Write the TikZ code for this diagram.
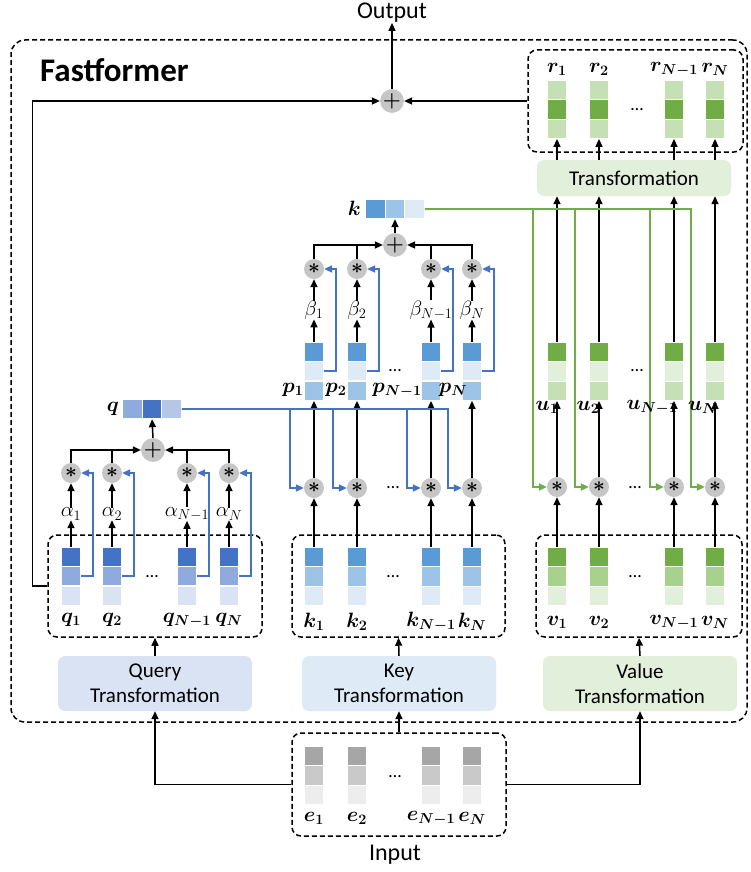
\documentclass[tikz,border=0pt]{standalone}
\usepackage{fontspec}
\setmainfont{Carlito}
\usepackage{amsmath}
\usetikzlibrary{arrows.meta,calc}
\definecolor{qdark}{HTML}{4472C4}
\definecolor{qmid}{HTML}{8FAADC}
\definecolor{qlight}{HTML}{DAE3F3}
\definecolor{qlighttwo}{HTML}{B4C7E7}
\definecolor{kdark}{HTML}{5B9BD5}
\definecolor{kmid}{HTML}{9DC3E6}
\definecolor{klight}{HTML}{DEEBF7}
\definecolor{vdark}{HTML}{70AD47}
\definecolor{vmid}{HTML}{A9D18E}
\definecolor{vlight}{HTML}{E2EFDA}
\definecolor{vmidtwo}{HTML}{C5E0B4}
\definecolor{edark}{HTML}{A6A6A6}
\definecolor{emid}{HTML}{C9C9C9}
\definecolor{elight}{HTML}{EDEDED}
\definecolor{opgray}{HTML}{C6C6C6}
\definecolor{bline}{HTML}{4472C4}
\definecolor{gline}{HTML}{70AD47}
\begin{document}
\begin{tikzpicture}[x=1pt,y=-1pt,
  cell/.style={rectangle,draw=white,line width=0.8pt,minimum width=19.5pt,minimum height=19.5pt,inner sep=0pt},
  op/.style={circle,fill=opgray,minimum size=20pt,inner sep=0pt,font=\boldmath\fontsize{21}{21}\selectfont},
  lab/.style={inner sep=0pt,font=\fontsize{21}{23}\selectfont},
  txt/.style={inner sep=0pt,font=\fontsize{24}{26}\selectfont},
  dots/.style={inner sep=0pt,font=\fontsize{18}{20}\selectfont},
  arr/.style={-{Triangle[length=8pt,width=7pt]},line width=1.5pt},
  ln/.style={line width=1.5pt},
  barr/.style={-{Triangle[length=8pt,width=7pt]},line width=2pt,bline},
  garr/.style={-{Triangle[length=8pt,width=7pt]},line width=2pt,gline},
  dbox/.style={draw,dash pattern=on 5pt off 3pt,line width=1.5pt,rounded corners=9pt,inner sep=0pt},
  tbox/.style={rounded corners=7pt,align=center,inner sep=0pt,font=\fontsize{21}{25}\selectfont},
  ttl/.style={inner sep=0pt,anchor=west,font=\bfseries\fontsize{33}{35}\selectfont}
]
\useasboundingbox (0,0) rectangle (750,872);

% ---------- dashed boxes ----------
\node[dbox,rounded corners=14pt,minimum width=736pt,minimum height=682pt] (outer) at (379,381) {};
\node[ttl] (title) at (40,70) {Fastformer};
\node[dbox,minimum width=214pt,minimum height=102pt] (qbox) at (155,586) {};
\node[dbox,minimum width=213pt,minimum height=102pt] (kbox) at (398.5,586) {};
\node[dbox,minimum width=206pt,minimum height=102pt] (vbox) at (639,586) {};
\node[dbox,minimum width=214pt,minimum height=103pt] (ebox) at (399,784.5) {};
\node[dbox,minimum width=215pt,minimum height=102pt] (rbox) at (635.5,101) {};

% ---------- transformation boxes ----------
\node[tbox,fill=qlight,minimum width=194pt,minimum height=55pt] (qt) at (155,683.5) {Query\\Transformation};
\node[tbox,fill=klight,minimum width=194pt,minimum height=55pt] (kt) at (399,683.5) {Key\\Transformation};
\node[tbox,fill=vlight,minimum width=194pt,minimum height=55pt] (vt) at (640,683.5) {Value\\Transformation};
\node[tbox,fill=vlight,minimum width=194pt,minimum height=36pt] (rt) at (634,178) {Transformation};

% ---------- texts ----------
\node[txt] (out) at (392,13) {Output};
\node[txt] (inp) at (395,855) {Input};

% ---------- input e ----------
\foreach \i/\x/\s in {1/314/1,2/357/2,3/431/N-1,4/472/N}{
  \node[cell,fill=edark] (ea\i) at (\x,755.75) {};
  \node[cell,fill=emid] (eb\i) at (\x,775.25) {};
  \node[cell,fill=elight] (ec\i) at (\x,794.75) {};
  \node[lab] (el\i) at (\x,818) {$\boldsymbol{e_{\s}}$};
}
\node[dots] (edots) at (395,777) {\ldots};

% ---------- query side ----------
\foreach \i/\x/\s in {1/71/1,2/112/2,3/187/N-1,4/229/N}{
  \node[cell,fill=qdark] (qa\i) at (\x,556.75) {};
  \node[cell,fill=qmid] (qb\i) at (\x,576) {};
  \node[cell,fill=qlight] (qc\i) at (\x,595.75) {};
  \node[lab] (ql\i) at (\x,620) {$\boldsymbol{q_{\s}}$};
  \node[op] (qs\i) at (\x,473) {$\ast$};
  \node[lab] (qal\i) at (\x,514) {$\alpha_{\s}$};
  \draw[arr] (qa\i.north) -- (qa\i.north |- qal\i.south);
  \draw[arr] (qa\i.north |- qal\i.north) -- (qs\i.south);
  \draw[barr] (qb\i.east) -- ++(12,0) |- (qs\i.east);
}
\node[dots] (qdots) at (152,577) {\ldots};
\node[op] (qplus) at (153,450) {$+$};
\draw[arr] (qs1.north) |- (qplus.west);
\draw[ln] (qs2.north) -- (qs2.north |- qplus.west);
\draw[arr] (qs4.north) |- (qplus.east);
\draw[ln] (qs3.north) -- (qs3.north |- qplus.east);
\node[cell,fill=qmid] (qv1) at (132.5,409) {};
\node[cell,fill=qdark] (qv2) at (152,409) {};
\node[cell,fill=qlighttwo] (qv3) at (171.5,409) {};
\node[lab,anchor=east] (qvl) at (119,409) {$\boldsymbol{q}$};
\draw[arr] (qplus.north) -- (qv2.south);

% ---------- key side ----------
\foreach \i/\x/\s/\px in {1/314/1/293,2/357/2/336,3/431/N-1/397,4/472/N/453}{
  \node[cell,fill=kdark] (ka\i) at (\x,556.75) {};
  \node[cell,fill=kmid] (kb\i) at (\x,576.25) {};
  \node[cell,fill=klight] (kc\i) at (\x,595.75) {};
  \node[lab] (kl\i) at (\x,622) {$\boldsymbol{k_{\s}}$};
  \node[op] (ks\i) at (\x,488) {$\ast$};
  \node[cell,fill=kdark] (pa\i) at (\x,351.75) {};
  \node[cell,fill=klight] (pb\i) at (\x,371) {};
  \node[cell,fill=kmid] (pc\i) at (\x,390.75) {};
  \node[lab] (pl\i) at (\px,390) {$\boldsymbol{p_{\s}}$};
  \node[op] (kss\i) at (\x,269) {$\ast$};
  \node[lab] (bl\i) at (\x,310) {$\beta_{\s}$};
  \draw[arr] (ka\i.north) -- (ks\i.south);
  \draw[arr] (ks\i.north) -- (pc\i.south);
  \draw[arr] (pa\i.north) -- (pa\i.north |- bl\i.south);
  \draw[arr] (pa\i.north |- bl\i.north) -- (kss\i.south);
  \draw[barr] (pb\i.east) -- ++(12,0) |- (kss\i.east);
  \draw[barr] (qv3.east) -| ($(ks\i.west)+(-14,0)$) -- (ks\i.west);
}
\node[dots] (kdots) at (393,577) {\ldots};
\node[dots] (ksdots) at (393,488) {\ldots};
\node[dots] (pdots) at (395,371) {\ldots};
\node[op] (kplus) at (395,245) {$+$};
\draw[arr] (kss1.north) |- (kplus.west);
\draw[ln] (kss2.north) -- (kss2.north |- kplus.west);
\draw[arr] (kss4.north) |- (kplus.east);
\draw[ln] (kss3.north) -- (kss3.north |- kplus.east);
\node[cell,fill=kdark] (kv1) at (375.5,209) {};
\node[cell,fill=kmid] (kv2) at (395,209) {};
\node[cell,fill=klight] (kv3) at (414.5,209) {};
\node[lab,anchor=east] (kvl) at (361,208) {$\boldsymbol{k}$};
\draw[arr] (kplus.north) -- (kv2.south);

% ---------- value side ----------
\foreach \i/\x/\s/\ux in {1/557/1/547,2/599/2/588,3/674/N-1/652,4/715/N/703}{
  \node[cell,fill=vdark] (va\i) at (\x,556.75) {};
  \node[cell,fill=vmid] (vb\i) at (\x,576.25) {};
  \node[cell,fill=vlight] (vc\i) at (\x,595.75) {};
  \node[lab] (vl\i) at (\x,622) {$\boldsymbol{v_{\s}}$};
  \node[op] (vs\i) at (\x,487) {$\ast$};
  \node[cell,fill=vdark] (ua\i) at (\x,351.75) {};
  \node[cell,fill=vlight] (ub\i) at (\x,371.25) {};
  \node[cell,fill=vmidtwo] (uc\i) at (\x,390.75) {};
  \node[cell,fill=vmidtwo] (ra\i) at (\x,89.75) {};
  \node[cell,fill=vdark] (rb\i) at (\x,109.25) {};
  \node[cell,fill=vmidtwo] (rc\i) at (\x,128.75) {};
  \node[lab] (rl\i) at (\x,69) {$\boldsymbol{r_{\s}}$};
  \draw[garr] (kv3.east) -| ($(vs\i.west)+(-14,0)$) -- (vs\i.west);
  \draw[arr] (va\i.north) -- (vs\i.south);
  \draw[arr] (vs\i.north) -- (uc\i.south);
  \draw[arr] (ua\i.north) -- (ua\i.north |- rt.south);
  \draw[arr] (rc\i.south |- rt.north) -- (rc\i.south);
  \node[lab] (ul\i) at (\ux,407) {$\boldsymbol{u_{\s}}$};
}
\node[dots] (vdots) at (635,577) {\ldots};
\node[dots] (vsdots) at (635,488) {\ldots};
\node[dots] (udots) at (637,371) {\ldots};
\node[dots] (rdots) at (637,110) {\ldots};

% ---------- top ----------
\node[op] (tplus) at (392,101) {$+$};
\draw[arr] (rbox.west) -- (tplus.east);
\draw[arr] (tplus.north) -- (out.south);
\draw[arr] (qbox.west) -- ++(-15,0) |- (tplus.west);

% ---------- transformations ----------
\draw[arr] (ebox.west) -| (qt.south);
\draw[arr] (ebox.east) -| (vt.south);
\draw[arr] (ebox.north) -- (kt.south);
\draw[arr] (qt.north) -- (qbox.south);
\draw[arr] (kt.north) -- (kbox.south);
\draw[arr] (vt.north) -- (vbox.south);
\end{tikzpicture}
\end{document}
